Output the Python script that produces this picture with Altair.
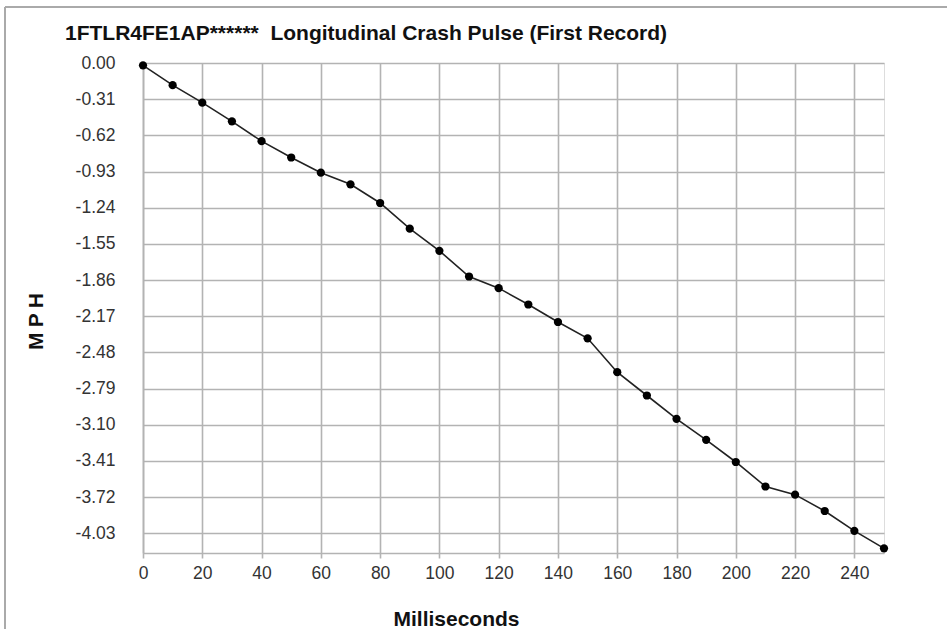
import altair as alt
import pandas as pd

ms = [0, 10, 20, 30, 40, 50, 60, 70, 80, 90, 100, 110, 120, 130, 140, 150,
      160, 170, 180, 190, 200, 210, 220, 230, 240, 250]
mph = [-0.02, -0.19, -0.34, -0.50, -0.67, -0.81, -0.94, -1.04, -1.20, -1.42,
       -1.61, -1.83, -1.93, -2.07, -2.22, -2.36, -2.65, -2.85, -3.05, -3.23,
       -3.42, -3.63, -3.70, -3.84, -4.01, -4.16]
x_ticks = [0, 20, 40, 60, 80, 100, 120, 140, 160, 180, 200, 220, 240]
y_ticks = [0.00, -0.31, -0.62, -0.93, -1.24, -1.55, -1.86, -2.17, -2.48,
           -2.79, -3.10, -3.41, -3.72, -4.03]

df = pd.DataFrame({"ms": ms, "mph": mph})

GRID = "#b3b3b3"
W, H = 741, 490
PL, PT = 143, 63

x_enc = alt.X("ms:Q", scale=alt.Scale(domain=[0, 250], nice=False, zero=False),
              axis=alt.Axis(values=x_ticks, tickCount=40, title="Milliseconds", grid=True,
                            gridColor=GRID, gridWidth=1.6, domainColor=GRID,
                            domainWidth=1.6, tickColor=GRID, tickWidth=1.6,
                            tickSize=5, labelPadding=15, labelBaseline="middle",
                            labelFlush=False, labelOverlap=False,
                            labelFontSize=17.5, labelColor="#333333",
                            labelFont="Liberation Sans",
                            titleFont="Liberation Sans", titleFontSize=21,
                            titleFontWeight="bold", titleColor="#111111",
                            titleX=313, titleY=72, titleAlign="center",
                            titleBaseline="alphabetic"))
y_enc = alt.Y("mph:Q", scale=alt.Scale(domain=[-4.2, 0], nice=False, zero=False),
              axis=alt.Axis(values=y_ticks, tickCount=40, title="M P H", grid=True,
                            labelExpr="replace(format(datum.value, '.2f'), '\u2212', '-')",
                            gridColor=GRID, gridWidth=1.6, domainColor=GRID,
                            domainWidth=1.6, ticks=False, labelPadding=28,
                            labelFlush=False, labelOverlap=False,
                            labelFontSize=17.5, labelColor="#333333",
                            labelFont="Liberation Sans",
                            titleFont="Liberation Sans", titleFontSize=20.5,
                            titleFontWeight="bold", titleColor="#111111",
                            titleX=-101, titleY=258, titleAlign="center",
                            titleAngle=-90, titleBaseline="alphabetic"))

base = alt.Chart(df)
line = base.mark_line(color="#222222", strokeWidth=1.6).encode(x=x_enc, y=y_enc)
pts = base.mark_point(filled=True, shape="circle", size=68, color="#000000",
                      opacity=1).encode(x="ms:Q", y="mph:Q")

frame_top = alt.Chart(pd.DataFrame({"a": [0]})).mark_rule(
    color="#aaaaaa", strokeWidth=2).encode(
    x=alt.value(5 - PL), x2=alt.value(947 - PL), y=alt.value(7 - PT))
frame_left = alt.Chart(pd.DataFrame({"a": [0]})).mark_rule(
    color="#aaaaaa", strokeWidth=2).encode(
    x=alt.value(5 - PL), y=alt.value(7 - PT), y2=alt.value(629 - PT))

chart = alt.layer(line, pts, frame_top, frame_left).properties(
    width=W, height=H,
    title=alt.TitleParams(
        "1FTLR4FE1AP******\u00a0 Longitudinal Crash Pulse (First Record)",
        anchor="start", frame="group", dx=-78, dy=55, offset=0,
        font="Liberation Sans", fontSize=21, fontWeight="bold",
        color="#111111", baseline="alphabetic"),
    autosize=alt.AutoSizeParams(type="none"),
    padding={"left": PL, "top": PT, "right": 947 - PL - W, "bottom": 629 - PT - H},
).configure_view(stroke=GRID, strokeWidth=1.6).configure(background="white")

chart.save("out.html", embed_options={"renderer": "svg", "actions": False})
